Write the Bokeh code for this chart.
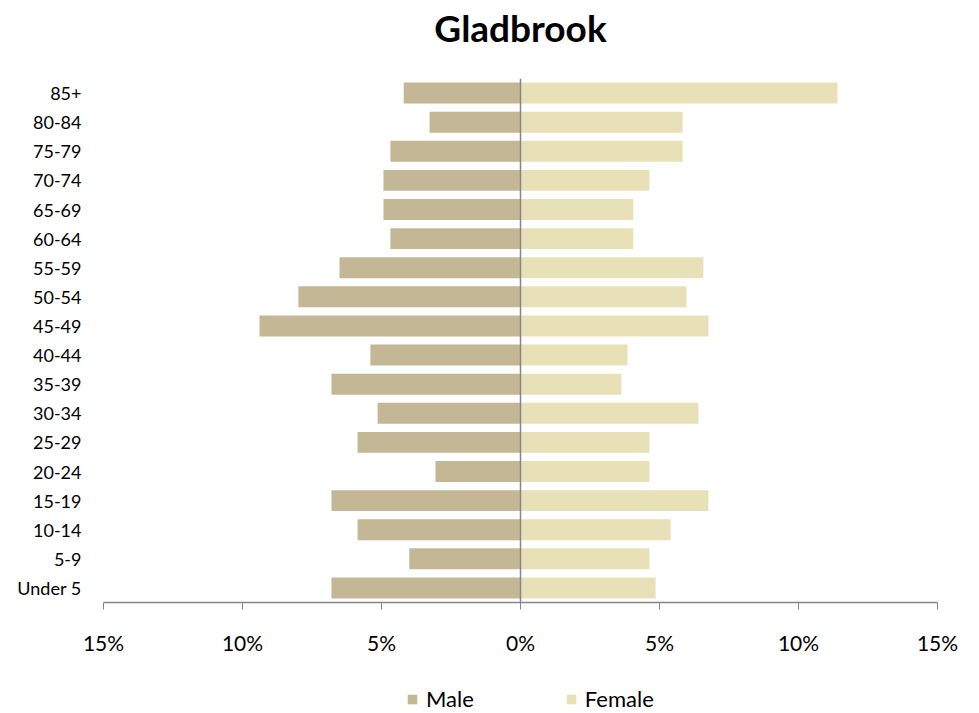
from bokeh.plotting import figure
from bokeh.layouts import column
from bokeh.models import (ColumnDataSource, FactorRange, Range1d, FixedTicker,
                          Span, Legend, LegendItem, LinearAxis)
from bokeh.embed import file_html
from bokeh.resources import INLINE

# ---- data ----
age_groups = ["Under 5", "5-9", "10-14", "15-19", "20-24", "25-29", "30-34",
              "35-39", "40-44", "45-49", "50-54", "55-59", "60-64", "65-69",
              "70-74", "75-79", "80-84", "85+"]
male_pct = [6.8, 4.0, 5.86, 6.8, 3.06, 5.86, 5.14, 6.8, 5.4, 9.39, 7.99, 6.51,
            4.68, 4.93, 4.93, 4.68, 3.27, 4.2]
female_pct = [4.86, 4.64, 5.4, 6.76, 4.64, 4.64, 6.4, 3.63, 3.85, 6.76, 5.97,
              6.58, 4.06, 4.06, 4.64, 5.83, 5.83, 11.4]
x_ticks = [-15, -10, -5, 0, 5, 10, 15]
x_tick_labels = ["15%", "10%", "5%", "0%", "5%", "10%", "15%"]
title_text = "Gladbrook"
series_names = ["Male", "Female"]

MALE_COLOR = "#C4B796"
FEMALE_COLOR = "#E8E1B8"
AXIS_COLOR = "#868686"
FONT = "Lato"

src = ColumnDataSource(dict(
    age=age_groups,
    male_left=[-v for v in male_pct],
    zero=[0] * len(age_groups),
    female_right=female_pct,
))

p = figure(width=979, height=663,
           y_range=FactorRange(factors=age_groups, range_padding=0),
           x_range=Range1d(-15, 15),
           output_backend="svg", toolbar_location=None,
           min_border_left=103, min_border_right=42,
           min_border_top=78, min_border_bottom=61)

xa = p.xaxis[0]
ya = p.yaxis[0]

# blank band between plot area and title (one white tick at the far right edge)
p.add_layout(LinearAxis(ticker=FixedTicker(ticks=[15], minor_ticks=[]),
                        axis_line_color=None,
                        major_tick_out=29, major_tick_in=0,
                        major_tick_line_color="white",
                        minor_tick_out=0, minor_tick_in=0,
                        major_label_standoff=0,
                        major_label_overrides={15: ""},
                        major_label_text_font_size="1px",
                        major_label_text_color="white"),
             "above")

p.title.text = title_text
p.title.align = "center"
p.title.text_font = FONT
p.title.text_font_style = "bold"
p.title.text_font_size = "37px"
p.title.text_color = "#000000"
p.title.standoff = 0

r_m = p.hbar(y="age", left="male_left", right="zero", height=0.72,
             source=src, fill_color=MALE_COLOR, line_color=None)
r_f = p.hbar(y="age", left="zero", right="female_right", height=0.72,
             source=src, fill_color=FEMALE_COLOR, line_color=None)

p.add_layout(Span(location=0, dimension="height", line_color=AXIS_COLOR,
                  line_width=1.5))

p.xgrid.visible = False
p.ygrid.visible = False
p.outline_line_color = None

xa.ticker = FixedTicker(ticks=x_ticks)
xa.major_label_overrides = {t: l for t, l in zip(x_ticks, x_tick_labels)}
xa.axis_line_color = AXIS_COLOR
xa.axis_line_width = 1.5
xa.major_tick_line_color = AXIS_COLOR
xa.major_tick_out = 7
xa.major_tick_in = 0
xa.minor_tick_line_color = None
xa.major_label_text_font = FONT
xa.major_label_text_font_size = "21px"
xa.major_label_text_color = "#000000"
xa.major_label_standoff = 20

ya.axis_line_color = None
ya.major_tick_line_color = None
ya.minor_tick_line_color = None
ya.major_label_text_font = FONT
ya.major_label_text_font_size = "18px"
ya.major_label_text_color = "#000000"
ya.major_label_standoff = 16

# ---- legend strip below the chart ----
leg = figure(width=979, height=50,
             y_range=FactorRange(factors=age_groups, range_padding=0),
             x_range=Range1d(-15, 15),
             output_backend="svg", toolbar_location=None, min_border=0)
leg.axis.visible = False
leg.grid.visible = False
leg.outline_line_color = None
lm = leg.hbar(y="age", left="male_left", right="zero", height=0.72,
              source=src, fill_color=MALE_COLOR, line_color=None,
              visible=False)
lf = leg.hbar(y="age", left="zero", right="female_right", height=0.72,
              source=src, fill_color=FEMALE_COLOR, line_color=None,
              visible=False)
legend = Legend(items=[LegendItem(label=series_names[0], renderers=[lm]),
                       LegendItem(label=series_names[1], renderers=[lf])],
                orientation="horizontal", location=(303, 1),
                glyph_width=12, glyph_height=12, label_standoff=8,
                label_height=24, spacing=91, padding=0,
                margin=0, border_line_color=None, background_fill_alpha=0,
                inactive_fill_alpha=0, click_policy="none",
                label_text_font=FONT, label_text_font_size="22px",
                label_text_color="#000000")
leg.add_layout(legend, "center")

layout = column(p, leg, spacing=0)
open("out.html", "w").write(file_html(layout, INLINE))
